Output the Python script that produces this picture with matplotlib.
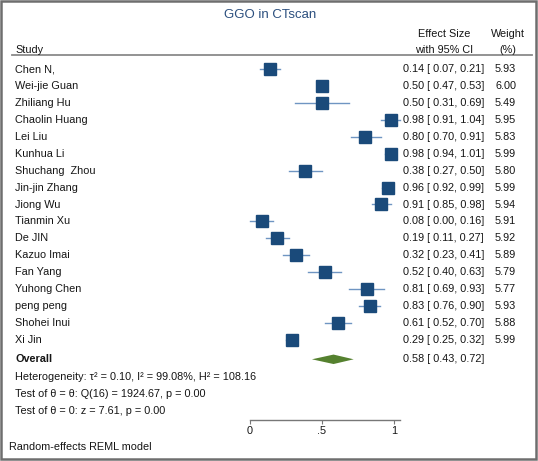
import matplotlib
matplotlib.use("Agg")
import matplotlib.pyplot as plt
from matplotlib.transforms import blended_transform_factory
from matplotlib.patches import Rectangle

# dados do forest plot
studies = ["Chen N,", "Wei-jie Guan", "Zhiliang Hu", "Chaolin Huang", "Lei Liu",
           "Kunhua Li", "Shuchang  Zhou", "Jin-jin Zhang", "Jiong Wu", "Tianmin Xu",
           "De JIN", "Kazuo Imai", "Fan Yang", "Yuhong Chen", "peng peng",
           "Shohei Inui", "Xi Jin"]
es = [0.14, 0.50, 0.50, 0.98, 0.80, 0.98, 0.38, 0.96, 0.91, 0.08,
      0.19, 0.32, 0.52, 0.81, 0.83, 0.61, 0.29]
lo = [0.07, 0.47, 0.31, 0.91, 0.70, 0.94, 0.27, 0.92, 0.85, 0.00,
      0.11, 0.23, 0.40, 0.69, 0.76, 0.52, 0.25]
hi = [0.21, 0.53, 0.69, 1.04, 0.91, 1.01, 0.50, 0.99, 0.98, 0.16,
      0.27, 0.41, 0.63, 0.93, 0.90, 0.70, 0.32]
weights = [5.93, 6.00, 5.49, 5.95, 5.83, 5.99, 5.80, 5.99, 5.94, 5.91,
           5.92, 5.89, 5.79, 5.77, 5.93, 5.88, 5.99]
overall = (0.58, 0.43, 0.72)
stats_lines = ["Heterogeneity: τ² = 0.10, I² = 99.08%, H² = 108.16",
               "Test of θ = θ: Q(16) = 1924.67, p = 0.00",
               "Test of θ = 0: z = 7.61, p = 0.00"]
xticks = [0, 0.5, 1]
xticklabels = ["0", ".5", "1"]

W, H = 538, 461
plt.rcParams['font.family'] = ['Liberation Sans', 'DejaVu Sans']

fig = plt.figure(figsize=(W / 100, H / 100), dpi=100)
ax = fig.add_axes([0, 0, 1, 1])

# escala: 0 -> 250 px, 1 -> 394 px ; linha i -> 69.3 + 16.9*i px
x0, sx = 250, 144
y0, sy = 69.3, 16.9
ax.set_xlim(-x0 / sx, (W - x0) / sx)
ax.set_ylim((H - y0) / sy, -y0 / sy)

def rowy(px):
    return (px - y0) / sy

tr = blended_transform_factory(fig.transFigure, ax.transData)
def fx(px):
    return px / W

fs = 7.8
txtc = "#151515"
sqc = "#1a4a7a"
cic = "#6f95c2"
dmc = "#55812f"

n = len(studies)
for i in range(n):
    ax.plot([lo[i], hi[i]], [i, i], color=cic, lw=1.0, zorder=2)
    ax.plot(es[i], i, marker="s", ms=8.3 * (weights[i] / 6.0) ** 0.5,
            color=sqc, mec=sqc, zorder=3)
    ax.text(fx(15), i, studies[i], transform=tr, fontsize=fs, va="center",
            ha="left", color=txtc)
    ax.text(fx(403), i, "%.2f [ %.2f, %.2f]" % (es[i], lo[i], hi[i]),
            transform=tr, fontsize=fs, va="center", ha="left", color=txtc)
    ax.text(fx(516), i, "%.2f" % weights[i], transform=tr, fontsize=fs,
            va="center", ha="right", color=txtc)

# diamante do overall
oy = rowy(359.3)
ov, olo, ohi = overall
dh = 0.28
ax.fill([olo, ov, ohi, ov], [oy, oy - dh, oy, oy + dh], color=dmc, lw=0, zorder=3)
ax.text(fx(15), oy, "Overall", transform=tr, fontsize=fs, va="center",
        ha="left", color=txtc, fontweight="bold")
ax.text(fx(403), oy, "%.2f [ %.2f, %.2f]" % overall, transform=tr,
        fontsize=fs, va="center", ha="left", color=txtc)

for k, line in enumerate(stats_lines):
    ax.text(fx(15), rowy(376.7 + 17.3 * k), line, transform=tr, fontsize=fs,
            va="center", ha="left", color=txtc)

ax.text(fx(9), rowy(446.7), "Random-effects REML model", transform=tr,
        fontsize=fs, va="center", ha="left", color=txtc)

# cabeçalho
ax.text(fx(270), rowy(14.5), "GGO in CTscan", transform=tr, fontsize=9.5,
        va="center", ha="center", color="#2b4f7e")
ax.text(fx(15), rowy(50), "Study", transform=tr, fontsize=fs, va="center",
        ha="left", color=txtc)
ax.text(fx(444), rowy(34), "Effect Size", transform=tr, fontsize=fs,
        va="center", ha="center", color=txtc)
ax.text(fx(444), rowy(50), "with 95% CI", transform=tr, fontsize=fs,
        va="center", ha="center", color=txtc)
ax.text(fx(508), rowy(34), "Weight", transform=tr, fontsize=fs,
        va="center", ha="center", color=txtc)
ax.text(fx(508), rowy(50), "(%)", transform=tr, fontsize=fs,
        va="center", ha="center", color=txtc)
ax.plot([fx(12), fx(532)], [rowy(55.5), rowy(55.5)], transform=tr,
        color="#8a8a8a", lw=1.3)

# eixo x
for s in ["top", "right", "left"]:
    ax.spines[s].set_visible(False)
ax.spines["bottom"].set_position(("data", rowy(420)))
ax.spines["bottom"].set_bounds(0, max(hi))
ax.spines["bottom"].set_color("#777777")
ax.spines["bottom"].set_linewidth(1.0)
ax.set_xticks(xticks)
ax.set_xticklabels(xticklabels, fontsize=fs, color=txtc)
ax.tick_params(axis="x", direction="out", length=3, width=0.8,
               color="#777777", pad=1.5)
ax.set_yticks([])

# moldura
fig.patches.append(Rectangle((0.002, 0.004), 0.995, 0.993, transform=fig.transFigure,
                             fill=False, edgecolor="#6e6e6e", lw=1.8))

fig.savefig("out.png", dpi=100)
